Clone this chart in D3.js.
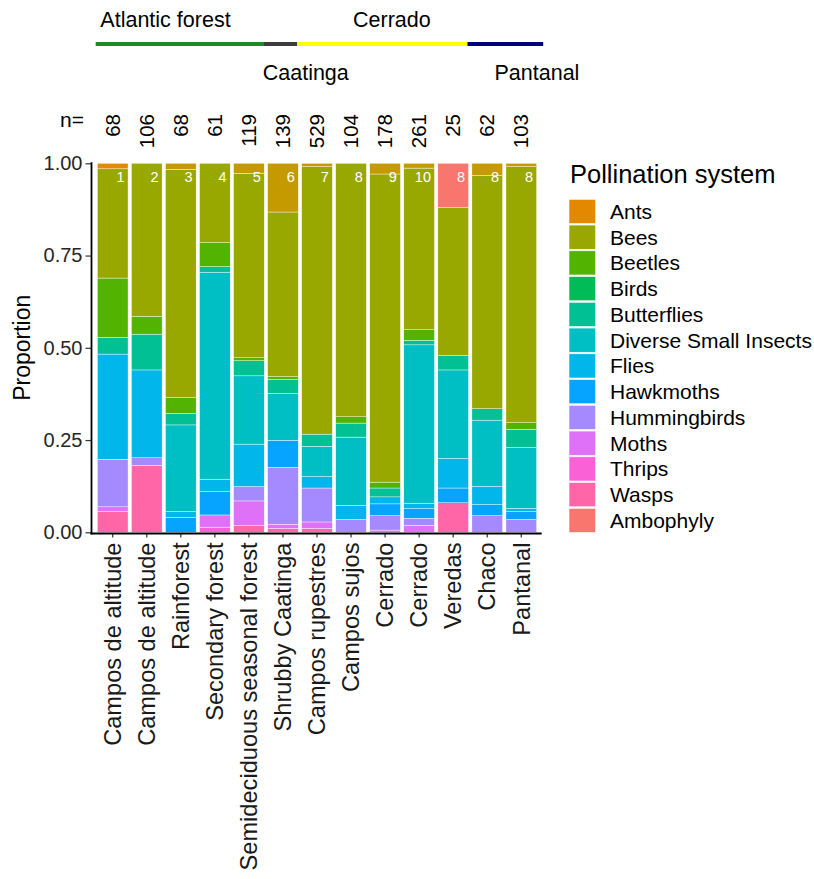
<!DOCTYPE html>
<html>
<head>
<meta charset="utf-8">
<script src="https://cdn.jsdelivr.net/npm/d3@7"></script>
<style>
  body { margin: 0; background: #fff; }
  svg { display: block; }
  text { font-family: "Liberation Sans", Arial, Helvetica, sans-serif; }
</style>
</head>
<body>
<svg id="chart" width="814" height="879"></svg>
<script>
// ---- Sites (one bar each) ----
const categories = [
  "Campos de altitude", "Campos de altitude", "Rainforest", "Secondary forest",
  "Semideciduous seasonal forest", "Shrubby Caatinga", "Campos rupestres",
  "Campos sujos", "Cerrado", "Cerrado", "Veredas", "Chaco", "Pantanal"
];
const sampleSizes = [68, 106, 68, 61, 119, 139, 529, 104, 178, 261, 25, 62, 103];
const studyRefs = ["1", "2", "3", "4", "5", "6", "7", "8", "9", "10", "8", "8", "8"];

// ---- Biomes spanning the sites ----
const biomeNames = ["Atlantic forest", "Caatinga", "Cerrado", "Pantanal"];
const biomeFirstSite = [0, 5, 6, 11];
const biomeLastSite = [4, 5, 10, 12];

// ---- Proportion of species per pollination system, one value per site ----
const ambophyly    = [0, 0, 0, 0, 0, 0, 0, 0, 0, 0, 0.120, 0, 0];
const ants         = [0.015, 0, 0, 0, 0, 0, 0, 0, 0, 0, 0, 0, 0];
const bats         = [0, 0, 0.016, 0, 0.027, 0.132, 0.009, 0, 0.029, 0.013, 0, 0.033, 0.009];
const bees         = [0.296, 0.415, 0.619, 0.215, 0.500, 0.446, 0.725, 0.687, 0.835, 0.438, 0.400, 0.632, 0.694];
const beetles      = [0.161, 0.048, 0.043, 0.065, 0.008, 0.007, 0, 0.017, 0.016, 0.029, 0, 0, 0.018];
const birds        = [0, 0, 0, 0, 0, 0, 0, 0, 0, 0, 0, 0, 0];
const butterflies  = [0.045, 0.097, 0.031, 0.015, 0.041, 0.038, 0.033, 0.038, 0.024, 0.012, 0.040, 0.031, 0.049];
const smallInsects = [0, 0, 0.235, 0.561, 0.185, 0.128, 0.082, 0.185, 0, 0.429, 0.240, 0.179, 0.165];
const flies        = [0.285, 0.238, 0.015, 0.034, 0.115, 0, 0.031, 0.038, 0.019, 0.015, 0.080, 0.050, 0.009];
const hawkmoths    = [0, 0, 0.041, 0.063, 0, 0.073, 0, 0, 0.032, 0.026, 0.040, 0.030, 0.021];
const hummingbirds = [0.129, 0.021, 0, 0, 0.039, 0.154, 0.092, 0.035, 0.039, 0.019, 0, 0.045, 0.035];
const moths        = [0.013, 0, 0, 0.033, 0.067, 0.012, 0.018, 0, 0.006, 0.019, 0, 0, 0];
const thrips       = [0, 0, 0, 0.014, 0, 0, 0, 0, 0, 0, 0, 0, 0];
const wasps        = [0.056, 0.181, 0, 0, 0.018, 0.010, 0.010, 0, 0, 0, 0.080, 0, 0];

// Factor levels (first level is stacked on top)
const systems = [
  "Ambophyly", "Ants", "Bats", "Bees", "Beetles", "Birds", "Butterflies",
  "Diverse Small Insects", "Flies", "Hawkmoths", "Hummingbirds", "Moths", "Thrips", "Wasps"
];
const systemValues = [
  ambophyly, ants, bats, bees, beetles, birds, butterflies,
  smallInsects, flies, hawkmoths, hummingbirds, moths, thrips, wasps
];
const legendEntries = [
  "Ants", "Bees", "Beetles", "Birds", "Butterflies", "Diverse Small Insects",
  "Flies", "Hawkmoths", "Hummingbirds", "Moths", "Thrips", "Wasps", "Ambophyly"
];
const yTicks = [0, 0.25, 0.5, 0.75, 1];

// ---- Styling ----
const palette = [
  "#F8766D", "#E38900", "#C49A00", "#99A800", "#53B400", "#00BC56", "#00C094",
  "#00BFC4", "#00B6EB", "#06A4FF", "#A58AFF", "#DF70F8", "#FB61D7", "#FF66A8"
];
const biomeColors = ["#1f8b24", "#3d3d3d", "#ffff00", "#00007f"];
const FONT = '"Liberation Sans", Arial, Helvetica, sans-serif';

const svg = d3.select("#chart");
svg.append("rect").attr("width", 814).attr("height", 879).attr("fill", "#fff");

const panel = { left: 92.3, right: 541.7, top: 163.3, bottom: 532.3 };

const x = d3.scaleBand()
  .domain(d3.range(categories.length))
  .range([panel.left, panel.right])
  .paddingInner(0.1)
  .paddingOuter(0.15);
const y = d3.scaleLinear().domain([0, 1]).range([panel.bottom, panel.top]);
const color = d3.scaleOrdinal().domain(systems).range(palette);
const step = x.step();
const cx = i => x(i) + x.bandwidth() / 2;

// ---- Stacked bars ----
const table = categories.map((c, i) => {
  const row = { idx: i };
  systems.forEach((s, k) => { row[s] = systemValues[k][i]; });
  return row;
});
const layers = d3.stack().keys(systems.slice().reverse())(table);

svg.append("g")
  .selectAll("g")
  .data(layers)
  .join("g")
  .attr("fill", d => color(d.key))
  .selectAll("rect")
  .data(d => d.filter(p => p[1] - p[0] > 0))
  .join("rect")
  .attr("x", d => x(d.data.idx))
  .attr("width", x.bandwidth())
  .attr("y", d => y(d[1]))
  .attr("height", d => y(d[0]) - y(d[1]))
  .attr("stroke", "#ffffff")
  .attr("stroke-width", 0.4);

// Study reference numbers inside the bars
svg.append("g")
  .selectAll("text")
  .data(studyRefs)
  .join("text")
  .attr("x", (d, i) => x(i) + x.bandwidth() - 3.5)
  .attr("y", 181.5)
  .attr("text-anchor", "end")
  .attr("font-size", 14.5)
  .attr("fill", "#ffffff")
  .text(d => d);

// ---- Axes ----
const yAxis = svg.append("g")
  .attr("transform", `translate(${panel.left - 0.8},0)`)
  .call(d3.axisLeft(y).tickValues(yTicks).tickFormat(d3.format(".2f"))
    .tickSize(6).tickSizeOuter(0).tickPadding(3));
yAxis.attr("font-family", FONT).attr("font-size", 20);
yAxis.select(".domain").remove();
yAxis.selectAll(".tick line").attr("stroke", "#333").attr("stroke-width", 1.2);
yAxis.selectAll(".tick text").attr("fill", "#262626");

const xAxis = svg.append("g")
  .attr("transform", `translate(0,${panel.bottom + 1.2})`)
  .call(d3.axisBottom(x).tickFormat(i => categories[i]).tickSize(4).tickSizeOuter(0));
xAxis.attr("font-family", FONT).attr("font-size", 23.6);
xAxis.select(".domain").remove();
xAxis.selectAll(".tick line").attr("stroke", "#333").attr("stroke-width", 1.2);
xAxis.selectAll(".tick text")
  .attr("fill", "#1a1a1a")
  .attr("transform", "rotate(-90)")
  .attr("text-anchor", "end")
  .attr("x", -9)
  .attr("y", 0)
  .attr("dy", "0.35em");

// Axis lines
svg.append("line")
  .attr("x1", panel.left - 0.8).attr("x2", panel.left - 0.8)
  .attr("y1", panel.top - 1).attr("y2", panel.bottom + 2.1)
  .attr("stroke", "#000").attr("stroke-width", 1.8);
svg.append("line")
  .attr("x1", panel.left - 1.7).attr("x2", panel.right)
  .attr("y1", panel.bottom + 1.2).attr("y2", panel.bottom + 1.2)
  .attr("stroke", "#000").attr("stroke-width", 1.8);

// Axis title
svg.append("text")
  .attr("transform", `translate(30,${(panel.top + panel.bottom) / 2}) rotate(-90)`)
  .attr("text-anchor", "middle")
  .attr("font-size", 23)
  .attr("fill", "#000")
  .text("Proportion");

// ---- Sample sizes above the bars ----
svg.append("text")
  .attr("x", 60).attr("y", 127)
  .attr("font-size", 21)
  .attr("fill", "#000")
  .text("n=");
svg.append("g")
  .selectAll("text")
  .data(sampleSizes)
  .join("text")
  .attr("transform", (d, i) => `translate(${cx(i)},114) rotate(-90)`)
  .attr("text-anchor", "end")
  .attr("dy", "0.35em")
  .attr("font-size", 20.5)
  .attr("fill", "#000")
  .text(d => d);

// ---- Biome bands ----
const bandStart = k => (k === 0 ? cx(0) - step / 2 : cx(biomeFirstSite[k]) - 0.58 * step);
const bandEnd = k => (k === biomeNames.length - 1 ? panel.right + 1.5 : cx(biomeLastSite[k]) + 0.42 * step);
svg.append("g")
  .selectAll("line")
  .data(biomeNames)
  .join("line")
  .attr("x1", (d, k) => bandStart(k))
  .attr("x2", (d, k) => bandEnd(k))
  .attr("y1", 44).attr("y2", 44)
  .attr("stroke", (d, k) => biomeColors[k])
  .attr("stroke-width", 4);

// Biome names: positions in site units from the first bar centre
const biomeLabelPos = [1.55, 5.67, 8.2, 12.46];
const biomeLabelY = [27, 80, 27, 80];
svg.append("g")
  .selectAll("text")
  .data(biomeNames)
  .join("text")
  .attr("x", (d, k) => cx(0) + biomeLabelPos[k] * step)
  .attr("y", (d, k) => biomeLabelY[k])
  .attr("text-anchor", "middle")
  .attr("font-size", 21.5)
  .attr("fill", "#000")
  .text(d => d);

// ---- Legend ----
const legend = svg.append("g").attr("transform", "translate(569,0)");
legend.append("text")
  .attr("x", 1).attr("y", 183)
  .attr("font-size", 25.5)
  .attr("fill", "#000")
  .text("Pollination system");
const rowH = 25.75;
const rows = legend.selectAll("g.key")
  .data(legendEntries)
  .join("g")
  .attr("class", "key")
  .attr("transform", (d, i) => `translate(0,${198.5 + i * rowH})`);
rows.append("rect")
  .attr("x", 0).attr("y", 0.8)
  .attr("width", 26.7).attr("height", 24.2)
  .attr("fill", d => color(d))
  .attr("stroke", "#ffffff").attr("stroke-width", 0.6);
rows.append("text")
  .attr("x", 41).attr("y", 13)
  .attr("dy", "0.35em")
  .attr("font-size", 21)
  .attr("fill", "#000")
  .text(d => d);
</script>
</body>
</html>
